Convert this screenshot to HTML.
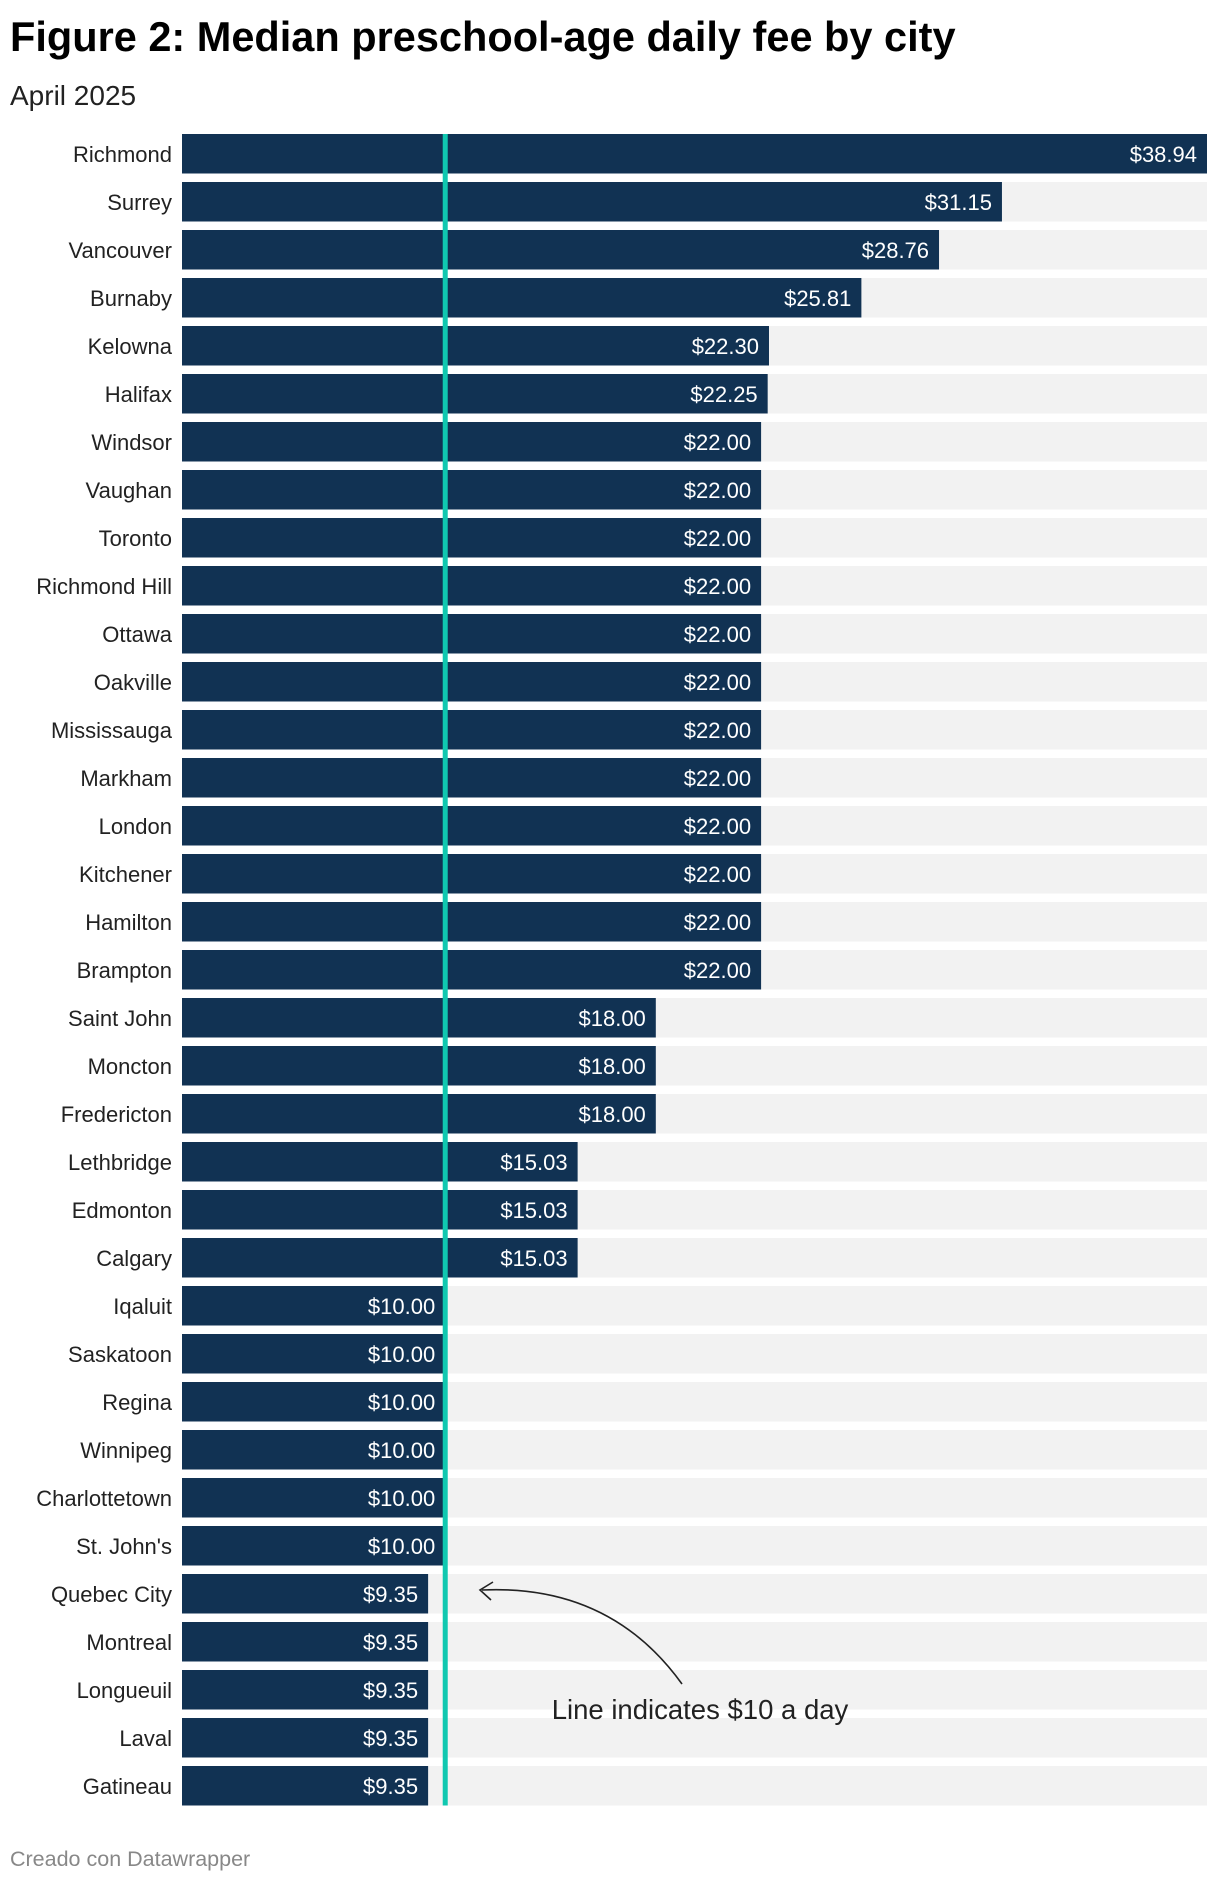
<!DOCTYPE html>
<html><head><meta charset="utf-8"><style>
body{margin:0;background:#fff;width:1220px;height:1882px;overflow:hidden;font-family:"Liberation Sans",Arial,sans-serif;}
#title{position:absolute;left:10px;top:13px;font-size:41.5px;font-weight:bold;color:#000;}
#sub{position:absolute;left:10px;top:80px;font-size:28px;color:#222;}
#foot{position:absolute;left:10px;top:1847px;font-size:21.5px;color:#888;}
</style></head><body>
<div id="title">Figure 2: Median preschool-age daily fee by city</div>
<div id="sub">April 2025</div>
<svg id="chart" width="1220" height="1882" style="position:absolute;left:0;top:0"></svg>
<div id="foot">Creado con Datawrapper</div>
<script>
const cities=["Richmond","Surrey","Vancouver","Burnaby","Kelowna","Halifax","Windsor","Vaughan","Toronto","Richmond Hill","Ottawa","Oakville","Mississauga","Markham","London","Kitchener","Hamilton","Brampton","Saint John","Moncton","Fredericton","Lethbridge","Edmonton","Calgary","Iqaluit","Saskatoon","Regina","Winnipeg","Charlottetown","St. John's","Quebec City","Montreal","Longueuil","Laval","Gatineau"];
const fees=[38.94,31.15,28.76,25.81,22.30,22.25,22,22,22,22,22,22,22,22,22,22,22,22,18,18,18,15.03,15.03,15.03,10,10,10,10,10,10,9.35,9.35,9.35,9.35,9.35];
const refValue=10;
const maxValue=38.94;
const NS="http://www.w3.org/2000/svg";
const svg=document.getElementById('chart');
const x0=182,x1=1207,top0=134,pitch=48.0,bh=39.5;
const x=v=>x0+(x1-x0)*v/maxValue;
function mk(t,a){const e=document.createElementNS(NS,t);for(const k in a)e.setAttribute(k,a[k]);svg.appendChild(e);return e;}
cities.forEach((c,i)=>{
 const y=top0+i*pitch;
 const bg=mk('rect',{x:x0,y:y,width:x1-x0,height:bh,fill:'#f2f2f2'});
 
 
 const b=mk('rect',{x:x0,y:y,width:x(fees[i])-x0,height:bh,fill:'#113253'});
 
 
 const l=mk('text',{x:x0-10,y:y+bh/2+8,'text-anchor':'end','font-size':22,fill:'#222'});
 l.textContent=c;
 
 
 const v=mk('text',{x:x(fees[i])-10,y:y+bh/2+8,'text-anchor':'end','font-size':22,fill:'#fff'});
 v.textContent='$'+fees[i].toFixed(2);
 
 
});
const rl=mk('rect',{x:x(refValue)-2.5,y:top0,width:5,height:34*pitch+bh,fill:'#10c8b0'});


const ar=mk('path',{d:'M682 1684 Q610 1584 482 1590',fill:'none',stroke:'#222','stroke-width':1.6});


const ah=mk('path',{d:'M493 1582 L480 1590 L491 1600',fill:'none',stroke:'#222','stroke-width':1.6});


const at=mk('text',{x:700,y:1719,'text-anchor':'middle','font-size':27.5,fill:'#222'});
at.textContent='Line indicates $10 a day';


</script>
</body></html>
